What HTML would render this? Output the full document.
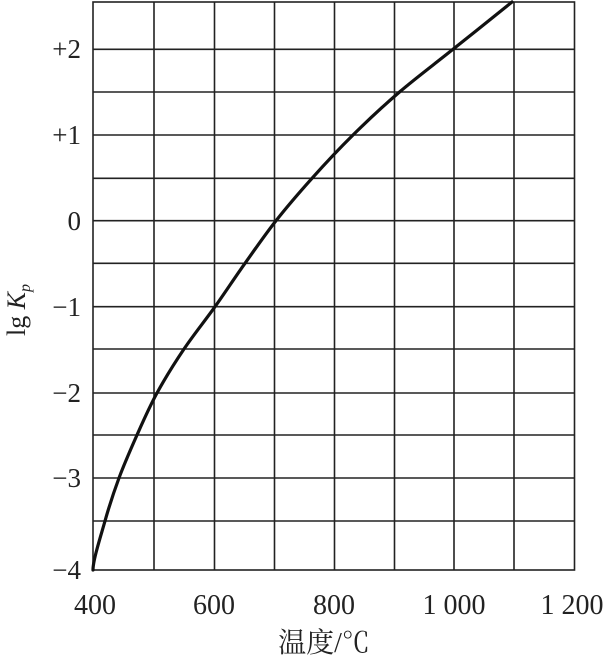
<!DOCTYPE html>
<html><head><meta charset="utf-8"><style>
html,body{margin:0;padding:0;background:#fff;}
svg{display:block;}
text{font-family:"Liberation Serif","Noto Serif CJK SC",serif;fill:#222;}
</style></head><body>
<svg width="610" height="658" viewBox="0 0 610 658" xmlns="http://www.w3.org/2000/svg">
<g stroke="#222" stroke-width="1.6" fill="none">
<rect x="93" y="2" width="481.5" height="568"/>
<line x1="154" y1="2" x2="154" y2="570"/>
<line x1="214.5" y1="2" x2="214.5" y2="570"/>
<line x1="274.5" y1="2" x2="274.5" y2="570"/>
<line x1="334.5" y1="2" x2="334.5" y2="570"/>
<line x1="394.5" y1="2" x2="394.5" y2="570"/>
<line x1="454" y1="2" x2="454" y2="570"/>
<line x1="514" y1="2" x2="514" y2="570"/>
<line x1="93" y1="49.3" x2="574.5" y2="49.3"/>
<line x1="93" y1="92" x2="574.5" y2="92"/>
<line x1="93" y1="135" x2="574.5" y2="135"/>
<line x1="93" y1="178.3" x2="574.5" y2="178.3"/>
<line x1="93" y1="220.7" x2="574.5" y2="220.7"/>
<line x1="93" y1="263.3" x2="574.5" y2="263.3"/>
<line x1="93" y1="306.7" x2="574.5" y2="306.7"/>
<line x1="93" y1="349" x2="574.5" y2="349"/>
<line x1="93" y1="393" x2="574.5" y2="393"/>
<line x1="93" y1="435" x2="574.5" y2="435"/>
<line x1="93" y1="478" x2="574.5" y2="478"/>
<line x1="93" y1="521" x2="574.5" y2="521"/>
</g>
<path d="M93,570 C93,560 100.7,536.3 105,521 C109.3,505.7 113.7,492.3 119,478 C124.3,463.7 130.7,449.2 137,435 C143.3,420.8 149.2,407.3 157,393 C164.8,378.7 174.3,363.4 184,349 C193.7,334.6 204.8,321 215,306.7 C225.2,292.4 234.8,277.6 245,263.3 C255.2,249 264.8,234.9 276,220.7 C287.2,206.5 299.2,192.6 312,178.3 C324.8,164 338.4,149.4 353,135 C367.6,120.6 382.8,106.3 399.5,92 C416.2,77.7 434.3,64.3 453,49.3 C471.8,34.3 502.2,9.9 512,2" stroke="#111" stroke-width="3.2" fill="none" stroke-linecap="round"/>
<g font-size="27" text-anchor="end">
<text x="81" y="58">+2</text>
<text x="81" y="144">+1</text>
<text x="81" y="230">0</text>
<text x="81" y="316">−1</text>
<text x="81" y="402">−2</text>
<text x="81" y="487">−3</text>
<text x="81" y="579">−4</text>
</g>
<g font-size="28" text-anchor="middle">
<text x="95" y="614">400</text>
<text x="214" y="614">600</text>
<text x="334" y="614">800</text>
<text x="454" y="614">1 000</text>
<text x="572" y="614">1 200</text>
<text x="324" y="652">温度/℃</text>
</g>
<text transform="translate(25,310) rotate(-90)" font-size="26" text-anchor="middle">lg <tspan font-style="italic">K</tspan><tspan font-style="italic" font-size="16" dy="5">p</tspan></text>
</svg>
</body></html>
